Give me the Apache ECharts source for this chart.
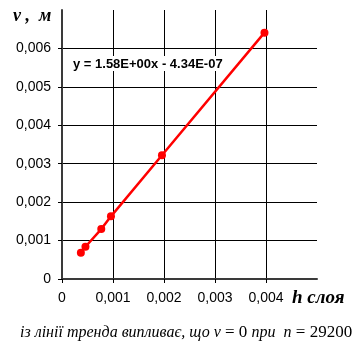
<!DOCTYPE html>
<html>
<head>
<meta charset="utf-8">
<script src="https://cdn.jsdelivr.net/npm/echarts@6/dist/echarts.min.js"></script>
<style>
html,body{margin:0;padding:0;background:#fff;}
#c{width:352px;height:342px;}
</style>
</head>
<body>
<div id="c"></div>
<script>
// Data
const hValues = [0.00037, 0.00046, 0.00077, 0.00096, 0.00196, 0.00397];
const vValues = [0.00068, 0.00084, 0.00130, 0.00163, 0.00322, 0.00641];
const xTicks = [0, 0.001, 0.002, 0.003, 0.004];
const yTicks = [0, 0.001, 0.002, 0.003, 0.004, 0.005, 0.006];
const equationText = 'y = 1.58E+00x - 4.34E-07';
const xName = 'h слоя';
const yName = 'v ,  м';

const fmt = v => (Math.abs(v) < 1e-12 ? '0' : v.toFixed(3).replace('.', ','));
const points = hValues.map((h, i) => [h, vValues[i]]);

const chart = echarts.init(document.getElementById('c'), null, {renderer: 'canvas'});
chart.setOption({
  animation: false,
  backgroundColor: '#fff',
  grid: {left: 62, right: 35, top: 10, bottom: 63, containLabel: false},
  xAxis: {
    type: 'value', min: 0, max: 0.005, interval: 0.001,
    axisLine: {show: true, onZero: false, lineStyle: {color: '#3a3a3a', width: 2}},
    axisTick: {show: true, inside: false, length: 4, customValues: xTicks, lineStyle: {color: '#000'}},
    axisLabel: {customValues: xTicks, formatter: fmt, color: '#000', fontFamily: 'Liberation Sans', fontSize: 14, margin: 12},
    splitLine: {show: true, lineStyle: {color: '#000', width: 1}}
  },
  yAxis: {
    type: 'value', min: 0, max: 0.007, interval: 0.001,
    axisLine: {show: true, onZero: false, lineStyle: {color: '#3a3a3a', width: 2}},
    axisTick: {show: true, inside: false, length: 4, customValues: yTicks, lineStyle: {color: '#000'}},
    axisLabel: {customValues: yTicks, formatter: fmt, color: '#000', fontFamily: 'Liberation Sans', fontSize: 14, margin: 11},
    splitLine: {show: true, lineStyle: {color: '#000', width: 1}}
  },
  series: [{
    type: 'line',
    data: points,
    symbol: 'circle',
    symbolSize: 8,
    itemStyle: {color: '#ff0000'},
    lineStyle: {color: '#ff0000', width: 2.5},
    z: 5
  }],
  graphic: [
    {
      type: 'rect', shape: {x: 68, y: 56, width: 160, height: 15},
      style: {fill: '#fff'}, z: 10
    },
    {
      type: 'text', x: 73, y: 64, z: 11,
      style: {text: equationText, font: 'bold 13px "Liberation Sans"', fill: '#000', textVerticalAlign: 'middle'}
    },
    {
      type: 'text', x: 13, y: 16, z: 11,
      style: {text: yName, font: 'italic bold 18px "Liberation Serif"', fill: '#000', textVerticalAlign: 'middle'}
    },
    {
      type: 'text', x: 292, y: 298, z: 11,
      style: {text: xName, font: 'italic bold 19px "Liberation Serif"', fill: '#000', textVerticalAlign: 'middle'}
    },
    {
      type: 'text', x: 20, y: 333, z: 11,
      style: {
        text: '{i|із лінії тренда випливає, що }{i|v}{n| = 0 }{i|при  n}{n| = 29200}',
        textVerticalAlign: 'middle',
        rich: {
          i: {font: 'italic 16px "Liberation Serif"', fill: '#000'},
          n: {font: '17px "Liberation Serif"', fill: '#000'}
        }
      }
    }
  ]
});
</script>
</body>
</html>
